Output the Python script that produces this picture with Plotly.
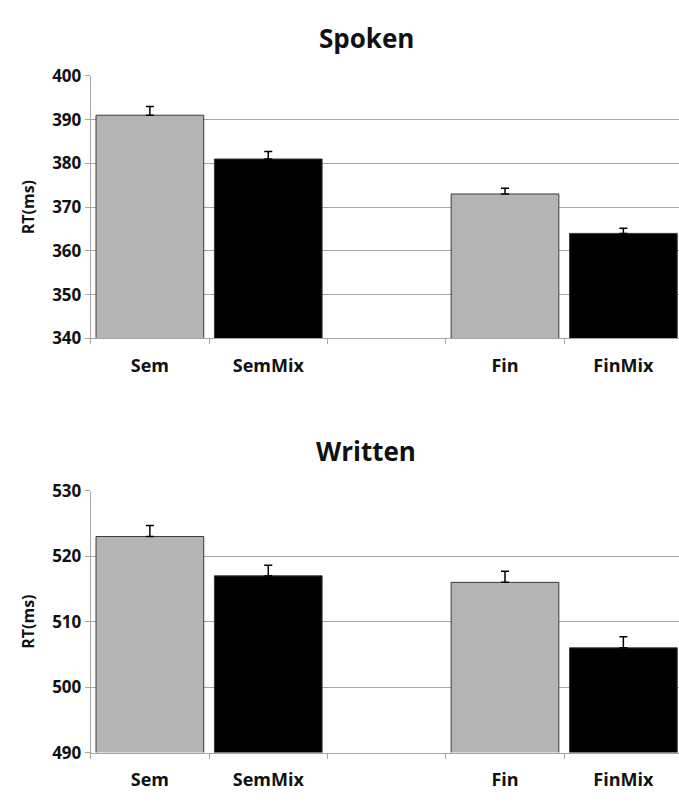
import plotly.graph_objects as go

categories = ["Sem", "SemMix", " ", "Fin", "FinMix"]
spoken_rt = [391, 381, None, 373, 364]
spoken_err = [2.0, 1.7, 0, 1.3, 1.2]
written_rt = [523, 517, None, 516, 506]
written_err = [1.7, 1.6, 0, 1.7, 1.7]
bar_colors = ["#b4b4b4", "#000000", "#ffffff", "#b4b4b4", "#000000"]
spoken_ticks = [340, 350, 360, 370, 380, 390, 400]
written_ticks = [490, 500, 510, 520, 530]

FONT = "Open Sans"
W, H = 679, 808

fig = go.Figure()
for rt, err, xa, ya in [(spoken_rt, spoken_err, "x", "y"), (written_rt, written_err, "x2", "y2")]:
    fig.add_trace(go.Bar(
        x=categories, y=rt, xaxis=xa, yaxis=ya,
        marker=dict(color=bar_colors, line=dict(color="#3a3a3a", width=1)),
        width=0.91,
        error_y=dict(type="data", array=err, arrayminus=[0]*len(err), symmetric=False,
                     color="#000000", thickness=1.5, width=4),
        showlegend=False,
    ))

def yax(ticks, dom, anchor):
    return dict(domain=dom, anchor=anchor, range=[ticks[0], ticks[-1]], tickvals=ticks,
                showgrid=True, gridcolor="#a6a6a6", gridwidth=1,
                showline=True, linecolor="#a6a6a6", linewidth=1,
                ticks="outside", ticklen=5, tickcolor="#a6a6a6",
                tickfont=dict(family=FONT, size=17, color="#111111", weight="bold"),
                title=dict(text="RT(ms)", standoff=13,
                           font=dict(family=FONT, size=16, color="#111111", weight="bold")),
                zeroline=False, fixedrange=True)

def xax(dom, anchor):
    return dict(domain=dom, anchor=anchor, type="category", range=[-0.5, 4.47],
                showline=True, linecolor="#a6a6a6", linewidth=1,
                ticks="outside", ticklen=5, tickcolor="#a6a6a6", tickson="boundaries",
                ticklabelstandoff=11,
                tickfont=dict(family=FONT, size=18, color="#111111", weight="bold"),
                showgrid=False, fixedrange=True)

xdom = [90.7 / W, 1.0]
fig.update_layout(
    width=W, height=H,
    margin=dict(l=0, r=0, t=0, b=0),
    paper_bgcolor="white", plot_bgcolor="white",
    xaxis=xax(xdom, "y"),
    yaxis=yax(spoken_ticks, [1 - 336 / H, 1 - 65.7 / H], "x"),
    xaxis2=xax(xdom, "y2"),
    yaxis2=yax(written_ticks, [1 - 762.3 / H, 1 - 492.7 / H], "x2"),
    annotations=[
        dict(text="Spoken", x=366 / W, y=1 - 27 / H, xref="paper", yref="paper",
             showarrow=False, xanchor="center", yanchor="middle",
             font=dict(family=FONT, size=26, color="#111111", weight="bold")),
        dict(text="Written", x=366 / W, y=1 - 452 / H, xref="paper", yref="paper",
             showarrow=False, xanchor="center", yanchor="middle",
             font=dict(family=FONT, size=26, color="#111111", weight="bold")),
    ],
)

fig.write_html("out.html", config={"displayModeBar": False},
               post_script="document.body.style.margin='0';document.body.style.overflow='hidden';")
